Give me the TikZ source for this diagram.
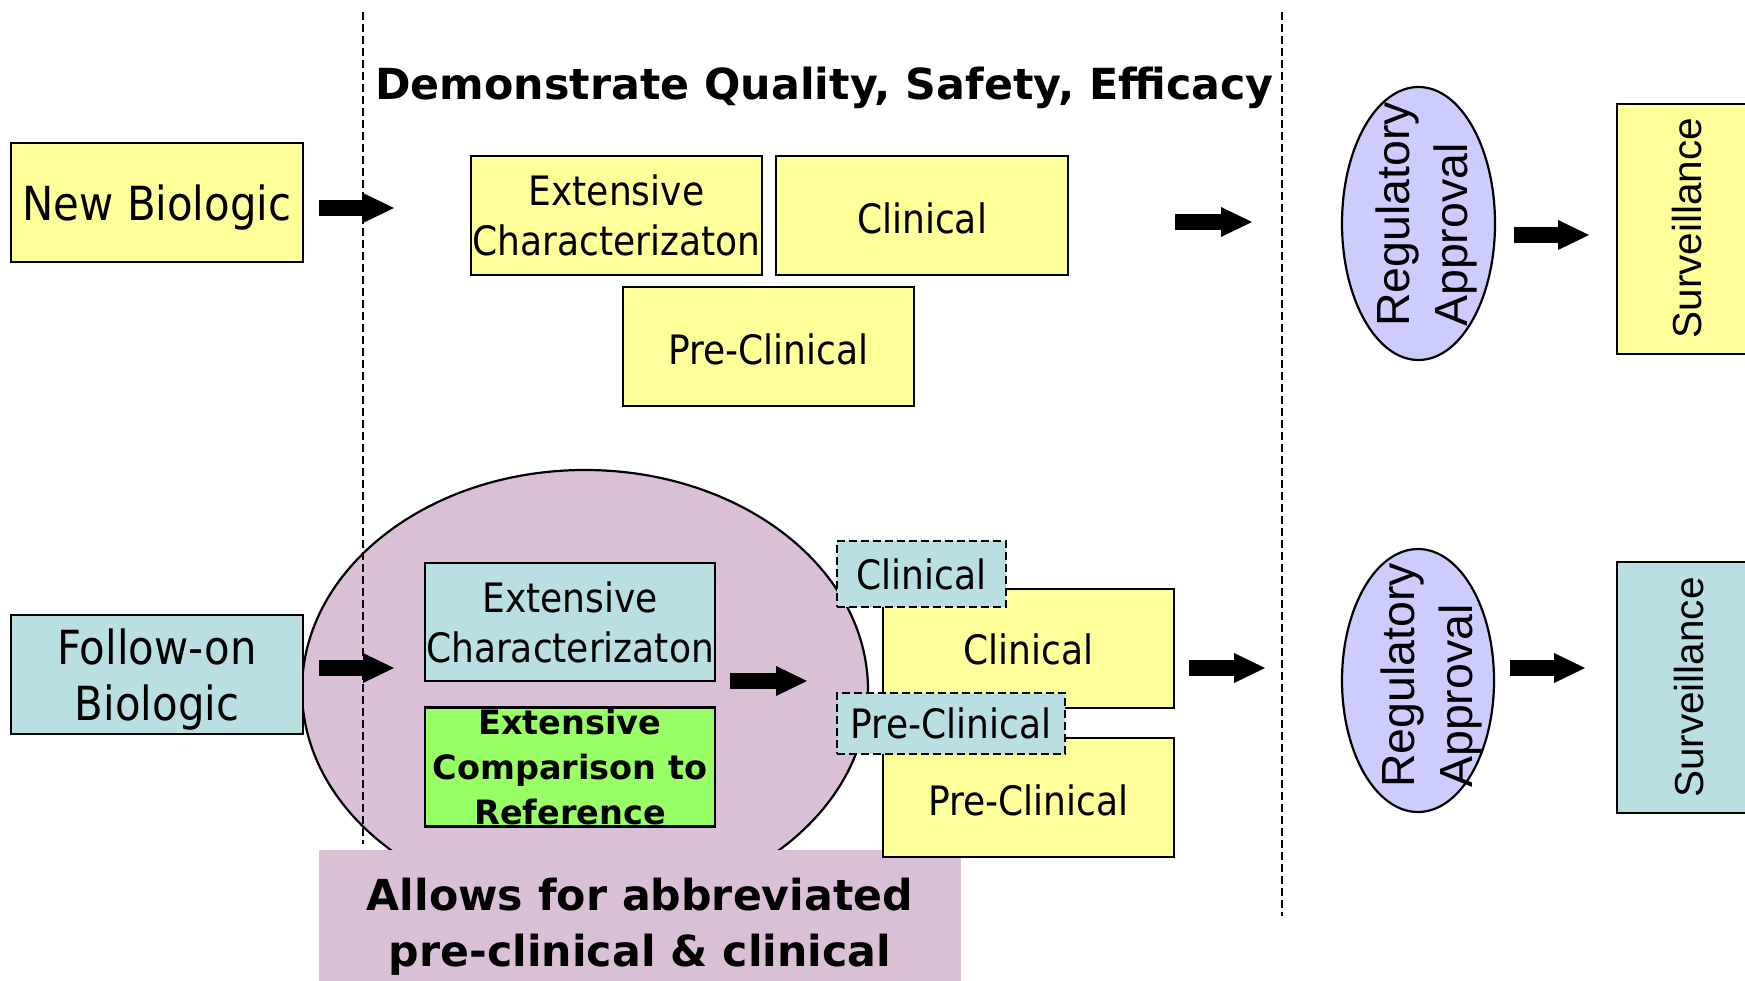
\documentclass[tikz,border=0pt]{standalone}
\usepackage{fontspec}
\setmainfont{DejaVu Sans}[FakeStretch=0.89]
\newfontfamily\tahb{DejaVu Sans}
\newfontfamily\arialf{Liberation Sans}
\usetikzlibrary{shapes.geometric,arrows.meta}
\definecolor{cYel}{RGB}{255,255,153}
\definecolor{cBlu}{RGB}{185,223,226}
\definecolor{cPink}{RGB}{218,192,214}
\definecolor{cGrn}{RGB}{153,255,102}
\definecolor{cLav}{RGB}{204,204,255}
\begin{document}
\begin{tikzpicture}[x=1pt,y=-1pt,
  box/.style={draw=black, line width=2.5pt, rectangle, inner sep=0pt, align=center,
    font=\fontsize{40.5}{50}\selectfont},
  yellowbox/.style={box, fill=cYel},
  bluebox/.style={box, fill=cBlu},
  dashbox/.style={box, fill=cBlu, line width=2.5pt, dash pattern=on 8pt off 4pt},
  bigfont/.style={font=\fontsize{47}{56}\selectfont},
  ovalbox/.style={draw=black, line width=2.2pt, ellipse, fill=cLav, inner sep=0pt},
  rottext/.style={rotate=90, inner sep=0pt, align=left, anchor=base west,
    font=\arialf\fontsize{46.5}{58}\selectfont},
  survtext/.style={rotate=90, inner sep=0pt, font=\arialf\fontsize{40.5}{50}\selectfont},
  vline/.style={line width=2.3pt, dash pattern=on 8pt off 4pt},
  blockarrow/.style={line width=16pt, -{Triangle[length=31pt,width=30pt,line width=0pt]}}
]
\useasboundingbox (0,0) rectangle (1745,981);
\clip (0,0) rectangle (1745,981);

% big pink ellipse and its caption panel
\node[draw=black, line width=2.2pt, ellipse, fill=cPink, inner sep=0pt,
      minimum width=566pt, minimum height=440pt] (ell) at (585,690) {};

% dashed phase separators
\coordinate (d1t) at (363,12);
\coordinate (d1b) at (363,844);
\coordinate (d2t) at (1282,12);
\coordinate (d2b) at (1282,916);
\draw[vline] (d1t) -- (d1b);
\draw[vline] (d2t) -- (d2b);

\node[fill=cPink, inner sep=0pt, minimum width=642pt, minimum height=153pt, align=center,
      font=\tahb\bfseries\fontsize{42.7}{56}\selectfont] (allow) at (640,926.5)
      {Allows for abbreviated\\pre-clinical \& clinical};

% title
\node[anchor=base west, inner sep=0pt, font=\tahb\bfseries\fontsize{42.8}{50}\selectfont]
      (title) at (375,100) {Demonstrate Quality, Safety, Efficacy};

% top row
\node[yellowbox, bigfont, text height=46.7pt, minimum width=292pt, minimum height=119pt] (nb) at (157,202.5) {New Biologic};
\node[yellowbox, minimum width=291pt, minimum height=119pt] (ec1) at (616.5,215.5) {Extensive\\Characterizaton};
\node[yellowbox, text height=37.4pt, minimum width=292pt, minimum height=119pt] (cl1) at (922,215.5) {Clinical};
\node[yellowbox, text height=37.4pt, minimum width=291pt, minimum height=119pt] (pc1) at (768.5,346.5) {Pre-Clinical};
\node[ovalbox, minimum width=153pt, minimum height=273pt] (ra1) at (1418.5,223.5) {};
\node[rottext] (ra1t) at (1467,327) {Regulatory\\Approval};
\node[yellowbox, rotate=90, minimum width=250pt, minimum height=140pt] (sv1) at (1687,229) {};
\node[survtext] (sv1t) at (1687,228) {Surveillance};

% bottom row
\node[bluebox, bigfont, text height=102.6pt, minimum width=292pt, minimum height=119pt] (fb) at (157,674.5) {Follow-on\\Biologic};
\node[bluebox, minimum width=290pt, minimum height=118pt] (ec2) at (570,622) {Extensive\\Characterizaton};
\node[box, fill=cGrn, minimum width=290pt, minimum height=119pt,
      font=\tahb\bfseries\fontsize{33.5}{45}\selectfont] (gr) at (570,767) {Extensive\\Comparison to\\Reference};
\node[yellowbox, text height=33pt, minimum width=291pt, minimum height=119pt] (cl2) at (1028.5,648.5) {Clinical};
\node[yellowbox, text height=37.4pt, minimum width=291pt, minimum height=119pt] (pc2) at (1028.5,797.5) {Pre-Clinical};
\node[dashbox, minimum width=169pt, minimum height=66pt] (dcl) at (921.5,574) {Clinical};
\node[dashbox, minimum width=228pt, minimum height=61pt] (dpc) at (951,723.5) {Pre-Clinical};
\node[ovalbox, minimum width=152pt, minimum height=263pt] (ra2) at (1418,680.5) {};
\node[rottext] (ra2t) at (1472,788) {Regulatory\\Approval};
\node[bluebox, rotate=90, minimum width=251pt, minimum height=144pt] (sv2) at (1689,687.5) {};
\node[survtext] (sv2t) at (1689,687.5) {Surveillance};

% block arrows
\coordinate (a1s) at (319,208);  \coordinate (a1e) at (394,208);
\coordinate (a2s) at (1175,222); \coordinate (a2e) at (1252,222);
\coordinate (a3s) at (1514,235); \coordinate (a3e) at (1589,235);
\coordinate (a4s) at (319,668);  \coordinate (a4e) at (394,668);
\coordinate (a5s) at (730,681);  \coordinate (a5e) at (807,681);
\coordinate (a6s) at (1189,668); \coordinate (a6e) at (1265,668);
\coordinate (a7s) at (1510,668); \coordinate (a7e) at (1585,668);
\draw[blockarrow] (a1s) -- (a1e);
\draw[blockarrow] (a2s) -- (a2e);
\draw[blockarrow] (a3s) -- (a3e);
\draw[blockarrow] (a4s) -- (a4e);
\draw[blockarrow] (a5s) -- (a5e);
\draw[blockarrow] (a6s) -- (a6e);
\draw[blockarrow] (a7s) -- (a7e);
\end{tikzpicture}
\end{document}
